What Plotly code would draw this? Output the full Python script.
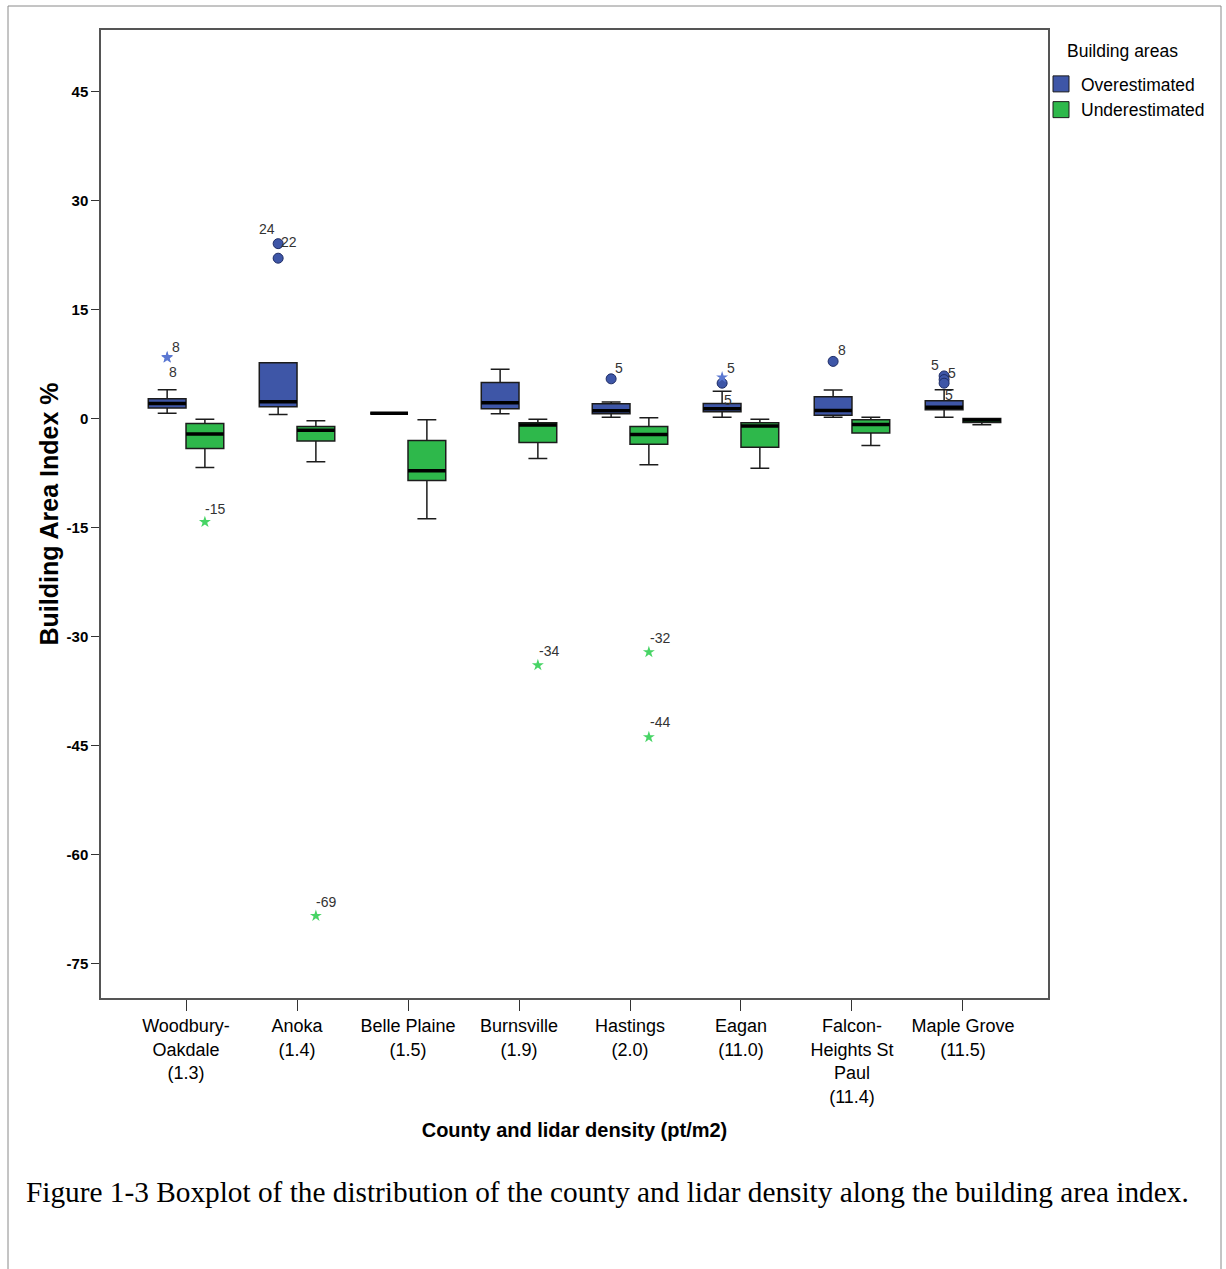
import plotly.graph_objects as go

# ---------------- data ----------------
categories = [
    "Woodbury-<br>Oakdale<br>(1.3)", "Anoka<br>(1.4)", "Belle Plaine<br>(1.5)",
    "Burnsville<br>(1.9)", "Hastings<br>(2.0)", "Eagan<br>(11.0)",
    "Falcon-<br>Heights St<br>Paul<br>(11.4)", "Maple Grove<br>(11.5)",
]

over_lower = [0.78, 0.60, 0.78, 0.69, 0.23, 0.23, 0.23, 0.23]
over_q1 = [1.47, 1.65, 0.78, 1.38, 0.69, 0.96, 0.50, 1.24]
over_median = [2.10, 2.34, 0.78, 2.20, 1.10, 1.38, 1.15, 1.60]
over_q3 = [2.75, 7.70, 0.78, 5.00, 2.06, 2.10, 3.03, 2.50]
over_upper = [4.00, 7.70, 0.78, 6.83, 2.30, 3.80, 3.95, 4.00]

under_lower = [-6.70, -5.90, -13.76, -5.46, -6.33, -6.80, -3.67, -0.83]
under_q1 = [-4.10, -3.07, -8.49, -3.26, -3.49, -3.90, -1.97, -0.50]
under_median = [-2.10, -1.56, -7.16, -0.87, -2.16, -1.00, -0.78, -0.18]
under_q3 = [-0.64, -1.05, -2.98, -0.55, -1.05, -0.55, -0.14, 0.05]
under_upper = [-0.05, -0.28, -0.14, -0.05, 0.14, -0.05, 0.23, 0.05]

# outliers
blue_circle_cat = [1, 1, 4, 5, 6, 7, 7, 7]
blue_circle_val = [24.1, 22.1, 5.5, 4.9, 7.9, 5.9, 5.4, 4.9]
blue_circle_lbl = ["24", "22", "5", "5", "8", "5", "5", "5"]

blue_star_cat = [0, 0, 5]
blue_star_val = [8.5, 8.4, 5.7]
blue_star_lbl = ["8", "8", "5"]

green_star_cat = [0, 1, 3, 4, 4]
green_star_val = [-14.2, -68.4, -33.9, -32.1, -43.8]
green_star_lbl = ["-15", "-69", "-34", "-32", "-44"]

y_tick_vals = [-75, -60, -45, -30, -15, 0, 15, 30, 45]
y_tick_text = ["-75", "-60", "-45", "-30", "-15", "0", "15", "30", "45"]

# ---------------- style ----------------
BLUE = "#3E56A7"
GREEN = "#2EB84B"
BLUE_STAR = "#5B78D2"
GREEN_STAR = "#47D465"
OUTLINE = "#1c1c1c"
BOX_W = 0.34
OFF = 0.17
SANS = "Liberation Sans, Arial, sans-serif"

# label offsets in px (xshift, yshift), same order as the outlier lists
blue_circle_shift = [(-11, 15), (11, 16), (8, 11), (6, -17), (9, 11), (-9, 11), (8, 7), (5, -12)]
blue_star_shift = [(9, 10), (6, -14), (9, 9)]
green_star_shift = [(10, 13), (10, 14), (11, 14), (11, 14), (11, 15)]

idx = list(range(len(categories)))
x_over = [i - OFF for i in idx]
x_under = [i + OFF for i in idx]

fig = go.Figure()


def add_boxes(x, lo, q1, med, q3, hi, fill):
    fig.add_trace(go.Box(
        x=x, q1=q1, median=med, q3=q3, lowerfence=lo, upperfence=hi,
        orientation="v", width=BOX_W, fillcolor=fill,
        line=dict(color=OUTLINE, width=1.5), whiskerwidth=0.5,
        boxpoints=False, showlegend=False, hoverinfo="skip",
    ))
    # thick median bar
    fig.add_trace(go.Box(
        x=x, q1=med, median=med, q3=med, lowerfence=med, upperfence=med,
        orientation="v", width=BOX_W, fillcolor="rgba(0,0,0,0)",
        line=dict(color="black", width=3.5), whiskerwidth=0,
        boxpoints=False, showlegend=False, hoverinfo="skip",
    ))


add_boxes(x_over, over_lower, over_q1, over_median, over_q3, over_upper, BLUE)
add_boxes(x_under, under_lower, under_q1, under_median, under_q3, under_upper, GREEN)

# outlier markers
fig.add_trace(go.Scatter(
    x=[c - OFF for c in blue_circle_cat], y=blue_circle_val, mode="markers",
    marker=dict(symbol="circle", size=10, color=BLUE, line=dict(color="#1f2d66", width=1)),
    showlegend=False, hoverinfo="skip",
))
fig.add_trace(go.Scatter(
    x=[c - OFF for c in blue_star_cat], y=blue_star_val, mode="markers",
    marker=dict(symbol="star", size=9, color=BLUE_STAR, line=dict(width=0)),
    showlegend=False, hoverinfo="skip",
))
fig.add_trace(go.Scatter(
    x=[c + OFF for c in green_star_cat], y=green_star_val, mode="markers",
    marker=dict(symbol="star", size=9, color=GREEN_STAR, line=dict(width=0)),
    showlegend=False, hoverinfo="skip",
))


# outlier labels
def add_labels(cats, vals, lbls, shifts, off):
    for c, v, t, (dx, dy) in zip(cats, vals, lbls, shifts):
        fig.add_annotation(
            x=c + off, y=v, xref="x", yref="y", text=t, showarrow=False,
            xshift=dx, yshift=dy, font=dict(family=SANS, size=14, color="#333333"),
        )


add_labels(blue_circle_cat, blue_circle_val, blue_circle_lbl, blue_circle_shift, -OFF)
add_labels(blue_star_cat, blue_star_val, blue_star_lbl, blue_star_shift, -OFF)
add_labels(green_star_cat, green_star_val, green_star_lbl, green_star_shift, OFF)

# legend entries
fig.add_trace(go.Scatter(
    x=[None], y=[None], mode="markers", name="Overestimated",
    marker=dict(symbol="square", size=16, color=BLUE, line=dict(color=OUTLINE, width=1)),
))
fig.add_trace(go.Scatter(
    x=[None], y=[None], mode="markers", name="Underestimated",
    marker=dict(symbol="square", size=16, color=GREEN, line=dict(color=OUTLINE, width=1)),
))

W, H = 1226, 1269
L, R, T, B = 101, 178, 30, 271
pw, ph = W - L - R, H - T - B


def px_x(p):
    return (p - L) / pw


def px_y(p):
    return (H - B - p) / ph


fig.update_layout(
    width=W, height=H,
    margin=dict(l=L, r=R, t=T, b=B, autoexpand=False),
    paper_bgcolor="white", plot_bgcolor="white",
    boxmode="overlay",
    font=dict(family=SANS, color="black"),
    legend=dict(
        xref="container", yref="container",
        x=1041 / W, y=1 - 66 / H, xanchor="left", yanchor="top",
        font=dict(family=SANS, size=17.5),
        bgcolor="rgba(0,0,0,0)",
    ),
    xaxis=dict(
        range=[-0.766, 7.766], tickmode="array", tickvals=idx, ticktext=categories,
        showgrid=False, zeroline=False, showline=True, mirror=True, automargin=False,
        linecolor="#555555", linewidth=1.5, ticks="outside", ticklen=11,
        tickcolor="#333333", tickwidth=1,
        tickfont=dict(family=SANS, size=18, color="black"),
        title=dict(text="County and lidar density (pt/m2)", standoff=17,
                   font=dict(family=SANS, size=20, color="black", weight="bold")),
    ),
    yaxis=dict(
        range=[-79.7, 53.5], tickmode="array", tickvals=y_tick_vals, ticktext=y_tick_text,
        showgrid=False, zeroline=False, showline=True, mirror=True, automargin=False,
        linecolor="#555555", linewidth=1.5, ticks="outside", ticklen=8,
        tickcolor="#333333", tickwidth=1,
        tickfont=dict(family=SANS, size=15, color="black", weight="bold"),
        title=dict(text="Building Area Index %", standoff=1,
                   font=dict(family=SANS, size=25, color="black", weight="bold")),
    ),
    shapes=[dict(
        type="rect", xref="paper", yref="paper",
        x0=px_x(8), x1=px_x(1221), y0=px_y(1290), y1=px_y(6),
        line=dict(color="#8a8a8a", width=1), fillcolor="rgba(0,0,0,0)", layer="below",
    )],
)

# legend heading
fig.add_annotation(
    x=px_x(1122), y=px_y(51), xref="paper", yref="paper",
    xanchor="center", yanchor="middle", text="Building areas", showarrow=False,
    font=dict(family=SANS, size=17.5, color="black"),
)

fig.add_annotation(
    x=px_x(24), y=px_y(1192), xref="paper", yref="paper", xanchor="left", yanchor="middle",
    text="Figure 1-3 Boxplot of the distribution of the county and lidar density along the building area index.",
    showarrow=False, font=dict(family="Liberation Serif, Times New Roman, serif", size=29.3, color="black"),
)

fig.write_html("out.html")
